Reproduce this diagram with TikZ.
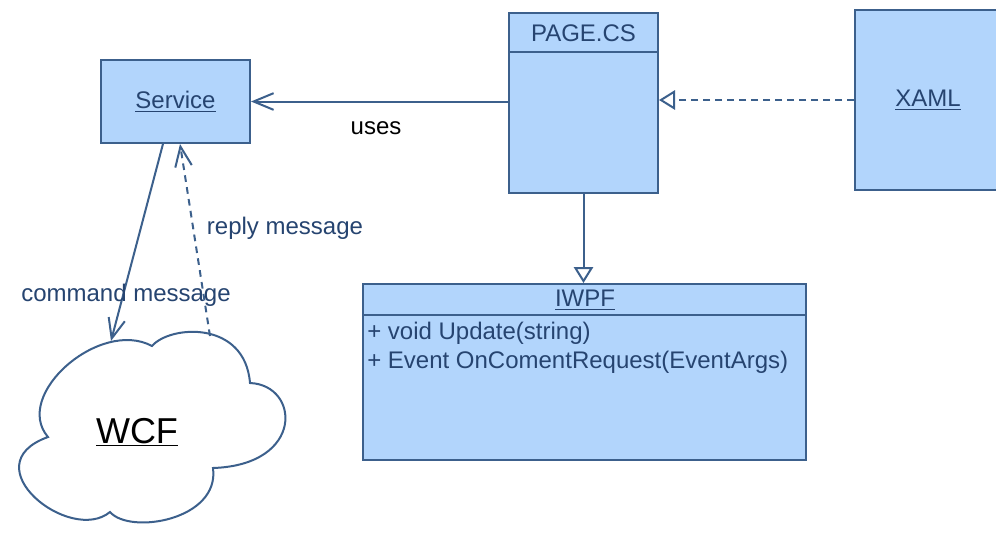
\documentclass[tikz,border=0pt]{standalone}
\usepackage{fontspec}
\setmainfont{Liberation Sans}
\usetikzlibrary{arrows.meta}
\definecolor{umlfill}{RGB}{178,213,252}
\definecolor{umlline}{RGB}{60,96,140}
\definecolor{umltext}{RGB}{38,68,112}

\begin{document}
\begin{tikzpicture}[x=0.75pt,y=-0.75pt,
  box/.style={draw=umlline, fill=umlfill, line width=1.5pt, inner sep=0pt,
    text=umltext, font=\fontsize{18}{21}\selectfont},
  lbl/.style={text=umltext, font=\fontsize{18}{21}\selectfont, inner sep=0pt},
  conn/.style={draw=umlline, line width=1.5pt},
  barb/.style={-{Straight Barb[length=15pt,width=12.5pt]}},
  realize/.style={-{Triangle[open,length=12pt,width=14.5pt]}},
  dashline/.style={dash pattern=on 5pt off 4pt},
]
\clip (0,0) rectangle (996,533);
\fill[white] (0,0) rectangle (996,533);

% classes
\node[box, minimum width=111.75pt, minimum height=62.25pt] (service) at (175.5,101.5) {\underline{Service}};

\node[box, minimum width=111.75pt, minimum height=135pt] (page) at (583.5,103) {};
\draw[conn] ([yshift=-30pt]page.north west) -- ([yshift=-30pt]page.north east);
\node[lbl] (pagetitle) at (583.5,33) {PAGE.CS};

\node[box, minimum width=109.5pt, minimum height=135pt] (xaml) at (928,100) {\underline{XAML}};

\node[box, minimum width=332.25pt, minimum height=132pt] (iwpf) at (584.5,372) {};
\draw[conn] ([yshift=-24pt]iwpf.north west) -- ([yshift=-24pt]iwpf.north east);
\node[lbl] (iwpftitle) at (585,300) {\underline{IWPF}};
\node[lbl, anchor=west] (m1) at (367,333) {+ void Update(string)};
\node[lbl, anchor=west] (m2) at (367,362) {+ Event OnComentRequest(EventArgs)};

% WCF cloud
\draw[umlline, line width=1.5pt, fill=white]
  (48,437) .. controls (12,395) and (100,318) .. (152,346)
           .. controls (170,325) and (245,320) .. (250,383)
           .. controls (300,385) and (305,465) .. (213,468)
           .. controls (220,520) and (130,535) .. (110,512)
           .. controls (70,545) and (-30,465) .. cycle;
\node[inner sep=0pt, text=black, font=\fontsize{27}{31}\selectfont] (wcf) at (137,432) {\underline{WCF}};
\coordinate (cmdend) at (111,341);
\coordinate (replystart) at (210,336);

% connectors
\draw[conn, barb] (page.west |- service.east) -- (service.east);
\node[lbl, text=black] (uses) at (376,128) {uses};

\draw[conn, dashline, realize] (xaml.west) -- (page.east |- xaml.west);

\draw[conn, realize] (page.south) -- (iwpf.north -| page.south);

\draw[conn, barb] ([xshift=-9.4pt]service.south) -- (cmdend);
\node[lbl] (cmdlbl) at (126,295) {command message};

\draw[conn, dashline, barb] (replystart) -- ([xshift=3.4pt]service.south);
\node[lbl] (replylbl) at (285,228) {reply message};
\end{tikzpicture}
\end{document}
